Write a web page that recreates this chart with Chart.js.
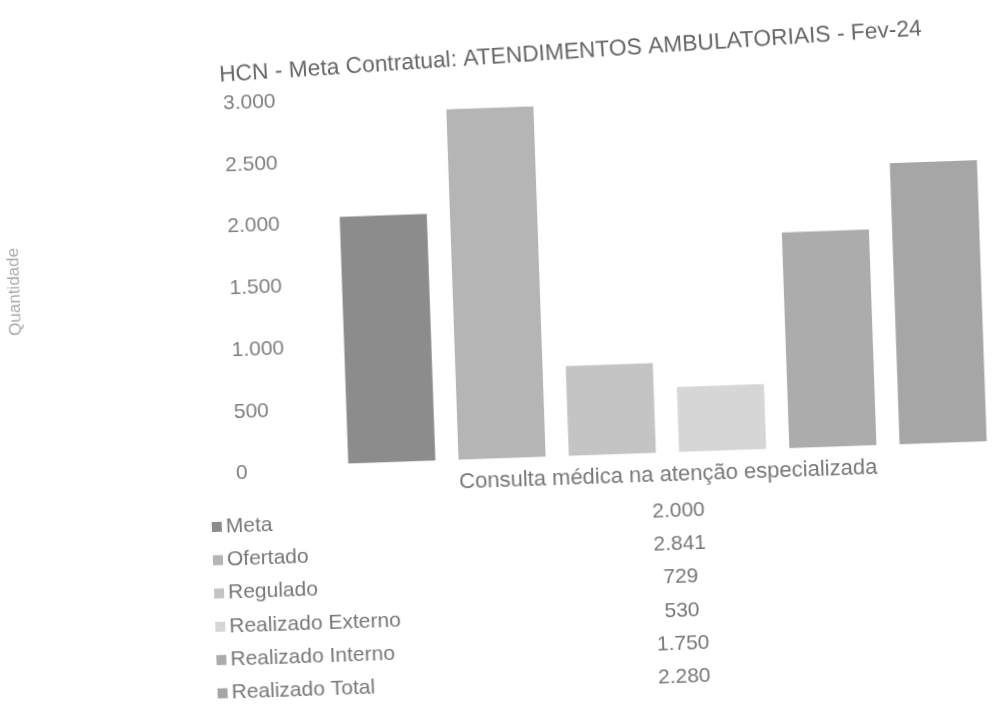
<!DOCTYPE html>
<html lang="pt-BR">
<head>
    <meta charset="UTF-8">
    <title>HCN - Meta Contratual</title>
    <style>
        html, body { margin: 0; padding: 0; background: #fff; overflow: hidden; }
        #chart-container { width: 995px; height: 711px; transform: rotate(-2deg); transform-origin: 50% 50%; }
    </style>
</head>
<body>
    <div id="chart-container">
        <canvas id="myChart"></canvas>
    </div>

    <script src="https://cdn.jsdelivr.net/npm/chart.js"></script>
<script>
    const categorias = ['Consulta médica na atenção especializada'];
    const series = ['Meta', 'Ofertado', 'Regulado', 'Realizado Externo', 'Realizado Interno', 'Realizado Total'];
    const valores = [2000, 2841, 729, 530, 1750, 2280];
    const cores = ['#8c8c8c', '#b5b5b5', '#c4c4c4', '#d6d6d6', '#acacac', '#a6a6a6'];
    const ticksY = [0, 500, 1000, 1500, 2000, 2500, 3000];

    const fonte = '"Liberation Sans", Arial, sans-serif';
    const fmt = v => String(v).replace(/\B(?=(\d{3})+(?!\d))/g, '.');

    // titulo, legenda e tabela de dados no estilo do Excel
    const extras = {
        id: 'extras',
        afterDraw(chart) {
            const c = chart.ctx;
            c.save();
            c.textBaseline = 'middle';

            c.save();
            c.translate(581, 55);
            c.rotate(-1.8 * Math.PI / 180);
            c.fillStyle = '#666';
            c.font = '22.8px ' + fonte;
            c.textAlign = 'center';
            c.fillText('HCN - Meta Contratual: ATENDIMENTOS AMBULATORIAIS - Fev-24', 0, 0);
            c.restore();

            c.save();
            c.translate(17, 275);
            c.rotate(-Math.PI / 2);
            c.fillStyle = '#aaa';
            c.font = '17px ' + fonte;
            c.textAlign = 'center';
            c.fillText('Quantidade', 0, 0);
            c.restore();

            const xc = chart.scales.x.getPixelForValue(0) + 9;
            series.forEach((s, i) => {
                const y = 517 + i * 33.3;
                c.fillStyle = cores[i];
                c.fillRect(206, y - 5, 10, 10);
                c.fillStyle = '#777';
                c.font = '21px ' + fonte;
                c.textAlign = 'left';
                c.fillText(s, 220, y);
                c.textAlign = 'center';
                c.fillText(fmt(valores[i]), xc, y);
            });
            c.restore();
        }
    };

    const ctx = document.getElementById('myChart').getContext('2d');

    const chart = new Chart(ctx, {
        type: 'bar',
        data: {
            labels: categorias,
            datasets: series.map((s, i) => ({
                label: s,
                data: [valores[i]],
                backgroundColor: cores[i],
                borderWidth: 0,
                categoryPercentage: 1.0,
                barPercentage: 0.79
            }))
        },
        options: {
            responsive: true,
            maintainAspectRatio: false,
            animation: false,
            layout: { padding: { left: 232, top: 88, right: 0, bottom: 208 } },
            plugins: {
                legend: { display: false },
                title: { display: false },
                tooltip: { enabled: false }
            },
            scales: {
                x: {
                    grid: { display: false, drawTicks: false },
                    border: { display: false },
                    ticks: { color: '#777', font: { family: fonte, size: 22 }, padding: 9 }
                },
                y: {
                    min: ticksY[0],
                    max: ticksY[ticksY.length - 1],
                    afterBuildTicks: axis => { axis.ticks = ticksY.map(v => ({ value: v })); },
                    afterFit: axis => { axis.width = 101; },
                    grid: { display: false, drawTicks: false },
                    border: { display: false },
                    ticks: {
                        crossAlign: 'far',
                        labelOffset: 6,
                        color: '#808080',
                        font: { family: fonte, size: 21 },
                        callback: v => fmt(v)
                    }
                }
            }
        },
        plugins: [extras]
    });
</script>
</body>
</html>
